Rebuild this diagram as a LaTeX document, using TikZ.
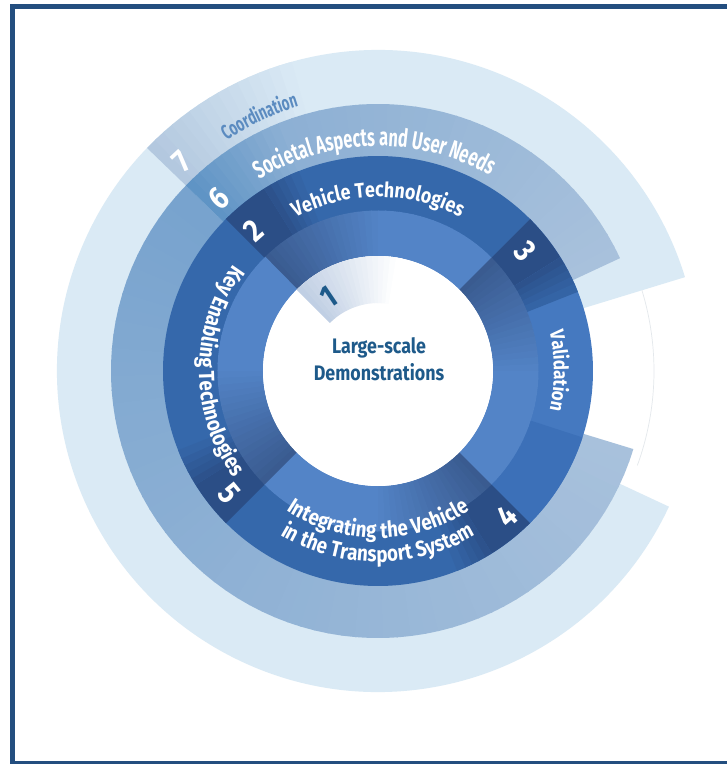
\documentclass[tikz,border=0pt]{standalone}
\usepackage{fontspec}
\newfontfamily\rmcond{Fira Sans}[FakeStretch=0.85]
\newfontfamily\rmnarrow{Fira Sans}[FakeStretch=0.65]
\usepackage{xcolor}
\definecolor{rmframe}{HTML}{234E7F}
\definecolor{rmcoord}{HTML}{DAEAF5}
\definecolor{rmcoordtab}{HTML}{B3C8DF}
\definecolor{rmcoordtext}{HTML}{5B8BC0}
\definecolor{rmsocdark}{HTML}{78A3CE}
\definecolor{rmsocmid}{HTML}{8DB0D4}
\definecolor{rmsoclight}{HTML}{A8C1DC}
\definecolor{rmsoctab}{HTML}{5F94C5}
\definecolor{rmring}{HTML}{3568AB}
\definecolor{rmringlt}{HTML}{4579C0}
\definecolor{rmringend}{HTML}{3C70B8}
\definecolor{rmtab}{HTML}{2B4E86}
\definecolor{rminlo}{HTML}{3A5B90}
\definecolor{rminhi}{HTML}{5384C7}
\definecolor{rmone}{HTML}{C0CFE4}
\definecolor{rmtext}{HTML}{1E5A8A}
\definecolor{rmfaint}{HTML}{E4E8EC}
\usepackage{tikz}
\usetikzlibrary{decorations.text}
% annular sector: style, from angle, to angle, inner r, outer r
\newcommand{\rmseg}[5]{\fill[#1] (#2:#4) arc[start angle=#2,end angle=#3,radius=#4] -- (#3:#5) arc[start angle=#3,end angle=#2,radius=#5] -- cycle;}
\tikzset{
  rmlabel/.style 2 args={decorate,decoration={text along path,text align=center,text color=white,text={|\rmcond\bfseries\fontsize{#1}{#1}\selectfont|#2}}},
  rmsoclabel/.style={decorate,decoration={text along path,text align=center,text color=white,text={|\rmnarrow\bfseries\fontsize{25}{25}\selectfont|#1}}},
  rmcoordlabel/.style={decorate,decoration={text along path,text align=center,text color=rmcoordtext,text={|\rmnarrow\bfseries\fontsize{20.5}{20.5}\selectfont|#1}}},
  rmnum/.style={text=white,inner sep=0pt,font=\rmcond\bfseries\fontsize{32}{32}\selectfont},
  rmcenter/.style={align=center,text=rmtext,inner sep=0pt,font=\rmcond\bfseries\fontsize{21}{27}\selectfont},
}
\begin{document}
\begin{tikzpicture}[x=1pt,y=1pt]
\useasboundingbox (-378,-393) rectangle (349,371);
\fill[white] (-378,-393) rectangle (349,371);
\draw[rmframe,line width=5pt] (349,364.5) -- (-365,364.5) -- (-365,-393);
\draw[rmframe,line width=3pt] (-365,-391.5) -- (349,-391.5);

% 7: coordination
\rmseg{rmcoord}{17}{335}{214}{321}
\foreach \k in {0,...,14} {
  \pgfmathsetmacro\angA{136-2*\k}
  \pgfmathsetmacro\angB{\angA-2.4}
  \pgfmathtruncatemacro\pc{100-100*\k/15}
  \rmseg{rmcoordtab!\pc!rmcoord}{\angA}{\angB}{214}{321}
}
\draw[rmfaint,line width=0.7pt] (-20:276) arc[start angle=-20,end angle=17,radius=276];

% 6: societal aspects
\foreach \k in {0,...,68} {
  \pgfmathsetmacro\angA{136+3*\k}
  \pgfmathsetmacro\angB{min(\angA+3.4,343)}
  \pgfmathtruncatemacro\pc{100*\k/68}
  \rmseg{rmsoclight!\pc!rmsocdark}{\angA}{\angB}{214}{267}
}
\foreach \k in {0,...,11} {
  \pgfmathsetmacro\angA{136-2*\k}
  \pgfmathsetmacro\angB{\angA-2.4}
  \pgfmathtruncatemacro\pc{100-100*\k/12}
  \rmseg{rmsoctab!\pc!rmsocmid}{\angA}{\angB}{214}{267}
}
\foreach \k in {0,...,28} {
  \pgfmathsetmacro\angA{112-3*\k}
  \pgfmathsetmacro\angB{max(\angA-3.4,25)}
  \pgfmathtruncatemacro\pc{100*\k/28}
  \rmseg{rmsoclight!\pc!rmsocmid}{\angA}{\angB}{214}{267}
}

% 2-5: label ring
\foreach \s/\c in {0/rmring,1/rmringlt,2/rmring,3/rmring} {
  \pgfmathsetmacro\angA{135-90*\s}
  \pgfmathsetmacro\angB{\angA-90.3}
  \rmseg{\c}{\angA}{\angB}{160}{215}
}
\rmseg{rmringend}{-18}{-45}{160}{215}
\foreach \s in {0,...,3} {
  \pgfmathsetmacro\angA{135-90*\s}
  \pgfmathsetmacro\angB{\angA-13}
  \rmseg{rmtab}{\angA}{\angB}{160}{215}
  \foreach \k in {1,...,5} {
    \pgfmathsetmacro\angC{\angA-13-2*(\k-1)}
    \pgfmathsetmacro\angD{\angC-2.4}
    \pgfmathtruncatemacro\pc{100-100*\k/6}
    \rmseg{rmtab!\pc!rmring}{\angC}{\angD}{160}{215}
  }
}

% inner shaded ring
\foreach \s in {0,...,3} {
  \foreach \k in {0,...,35} {
    \pgfmathsetmacro\angA{135-90*\s-2.5*\k}
    \pgfmathsetmacro\angB{\angA-2.9}
    \pgfmathtruncatemacro\pc{max(0,100-100*\k/18)}
    \rmseg{rminlo!\pc!rminhi}{\angA}{\angB}{115}{160.5}
  }
}

% 1: core
\fill[white] (0,0) circle[radius=115];
\foreach \k in {0,...,18} {
  \pgfmathsetmacro\angA{135-3*\k}
  \pgfmathsetmacro\angB{\angA-3.4}
  \pgfmathtruncatemacro\pc{100-100*\k/18}
  \rmseg{rmone!\pc!white}{\angA}{\angB}{68}{115}
}

% labels
\path[rmcoordlabel={Coordination}] (160:276) arc[start angle=160,end angle=70,radius=276];
\path[rmsoclabel={Societal Aspects and User Needs}] (150:225) arc[start angle=150,end angle=32,radius=225];
\path[rmlabel={21}{Vehicle Technologies}] (135:174) arc[start angle=135,end angle=45,radius=174];
\path[rmlabel={20}{Validation}] (45:176) arc[start angle=45,end angle=-45,radius=176];
\path[rmlabel={22}{Key Enabling Technologies}] (135:179) arc[start angle=135,end angle=225,radius=179];
\path[rmlabel={22}{Integrating the Vehicle}] (225:167) arc[start angle=225,end angle=315,radius=167];
\path[rmlabel={22}{in the Transport System}] (225:191) arc[start angle=225,end angle=315,radius=191];

\node[rmnum,rotate=34,text=rmtext] (n1) at (124:89) {1};
\node[rmnum,rotate=41.5] (n2) at (131.5:188) {2};
\node[rmnum,rotate=-51] (n3) at (39:190) {3};
\node[rmnum,rotate=41.5] (n4) at (-48.5:194) {4};
\node[rmnum,rotate=-50.5] (n5) at (219.5:193) {5};
\node[rmnum,rotate=42.6] (n6) at (132.6:235) {6};
\node[rmnum,rotate=43] (n7) at (133:287) {7};

\node[rmcenter] (demo) at (1,12) {Large-scale\\Demonstrations};
\end{tikzpicture}
\end{document}
